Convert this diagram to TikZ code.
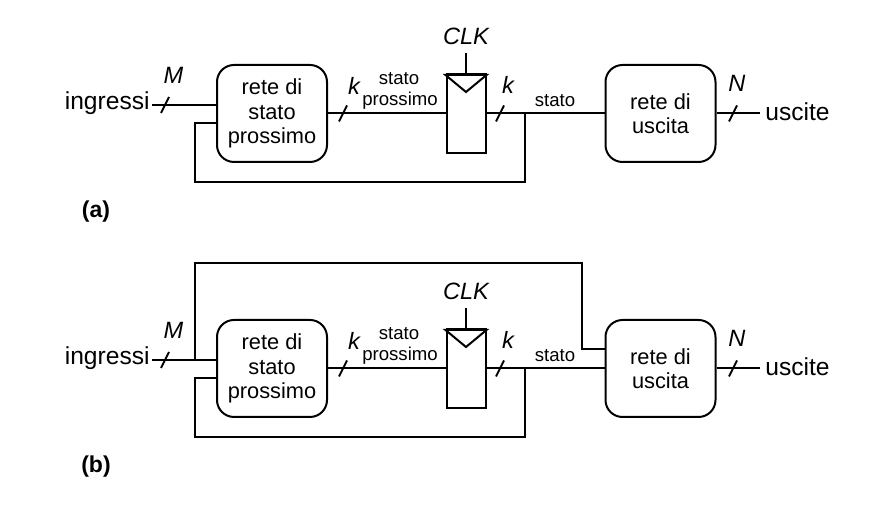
\documentclass[tikz,border=0pt]{standalone}
\usepackage{fontspec}
\setmainfont{Liberation Sans}
\usetikzlibrary{calc}
\tikzstyle{wire}=[line width=1pt]
\tikzstyle{net}=[draw,line width=1pt,rounded corners=8.5pt,minimum width=55pt,minimum height=48.5pt,inner sep=0pt,align=center,font=\fontsize{10.9}{12.2}\selectfont]
\tikzstyle{reg}=[draw,line width=1pt,minimum width=19.5pt,minimum height=39.5pt,inner sep=0pt]
\tikzstyle{big}=[inner sep=0pt,font=\fontsize{12.3}{14}\selectfont]
\tikzstyle{small}=[inner sep=0pt,font=\fontsize{9.3}{11}\selectfont]
\tikzstyle{bits}=[inner sep=0pt,font=\fontsize{11.8}{14}\selectfont\itshape]
\tikzstyle{sublabel}=[inner sep=0pt,font=\fontsize{11.5}{14}\selectfont\bfseries]
\newcommand\busmark[1]{\draw[wire] (#1) ++(-4,8) -- ++(8,-16);}
\newcommand\machine{%
  \node[big,anchor=base east] (in) at (150,110) {ingressi};
  \node[net] (nsl) at (272,113.5) {rete di\\stato\\prossimo};
  \node[reg] (ff) at (466,113.5) {};
  \node[net] (onet) at (660.5,113.5) {rete di\\uscita};
  \node[big,anchor=base west] (out) at (765,121) {uscite};
  \node[bits,anchor=base] (clk) at (466,44.5) {CLK};
  \coordinate (nsl-i) at ($(nsl.west)+(0,-8.5)$);
  \coordinate (nsl-f) at ($(nsl.west)+(0,9.5)$);
  \coordinate (j) at (525,113.5);
  \coordinate (fb) at (195,182);
  \coordinate (tap) at (fb |- nsl-i);
  % wires
  \draw[wire] ([xshift=1pt]in.east |- nsl-i) -- (nsl-i);
  \draw[wire] (nsl) -- (ff);
  \draw[wire] (ff) -- (onet);
  \draw[wire] (j) |- (fb) |- (nsl-f);
  \draw[wire] (onet) -- ([xshift=-2.5pt]out.west |- onet);
  \draw[wire] (ff.north) -- ++(0,-20);
  \draw[wire] ([yshift=-1pt]ff.north west) -- ([yshift=-9.5pt]ff.north) -- ([yshift=-1pt]ff.north east) -- cycle;
  % bus widths
  \busmark{165,105} \busmark{343,113.5} \busmark{500,113.5} \busmark{733,113.5}
  \node[bits,anchor=base] (m) at (173.5,84) {M};
  \node[bits,anchor=base] (k1) at (354,95) {k};
  \node[small,anchor=base] (sp1) at (399,85) {stato};
  \node[small,anchor=base] (sp2) at (400,105.5) {prossimo};
  \node[bits,anchor=base] (k2) at (508,93.3) {k};
  \node[small,anchor=base] (st) at (555,106.7) {stato};
  \node[bits,anchor=base] (n) at (737,91.7) {N};
}

\begin{document}
\begin{tikzpicture}[x=0.5pt,y=-0.5pt]
  \useasboundingbox (0,0) rectangle (896,506);
  \begin{scope}[name prefix=a-]
    \machine
    \node[sublabel,anchor=base] (lbl) at (96,218) {(a)};
  \end{scope}
  \begin{scope}[shift={(0,255)},name prefix=b-]
    \machine
    \node[sublabel,anchor=base] (lbl) at (96,218) {(b)};
    \coordinate (top) at (582,8);
    \coordinate (onet-i) at ($(onet.west)+(0,-19.5)$);
    \draw[wire] (tap) |- (top) |- (onet-i);
  \end{scope}
\end{tikzpicture}
\end{document}
